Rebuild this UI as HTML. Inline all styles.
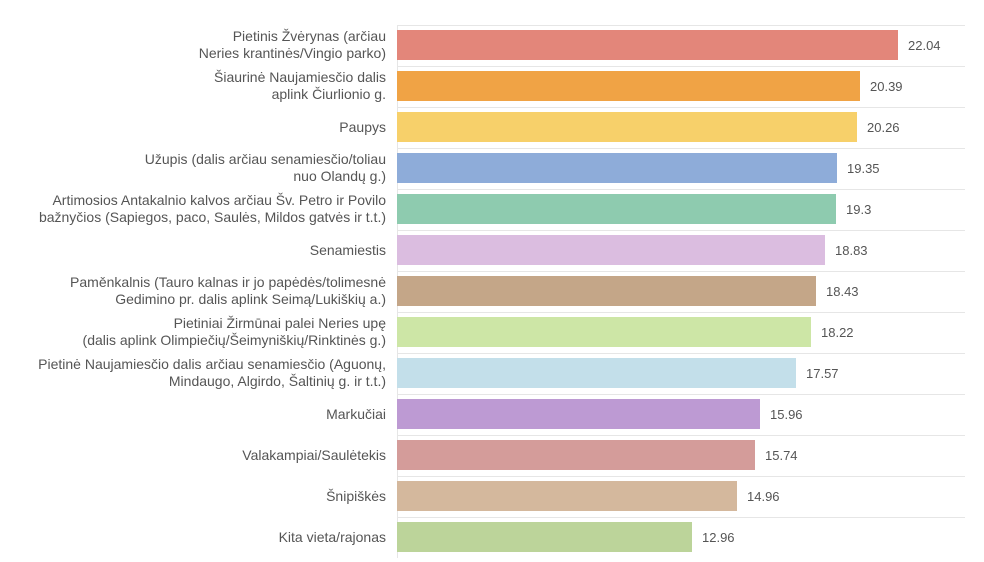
<!DOCTYPE html><html><head><meta charset="utf-8"><style>body{margin:0;background:#fff}svg{display:block}text{font-family:"Liberation Sans",sans-serif;font-size:13px;fill:#555}.l text{font-size:14px}</style></head><body>
<svg width="984" height="562" xmlns="http://www.w3.org/2000/svg">
<g stroke="#e6e6e6" stroke-width="1">
<line x1="397" y1="25.5" x2="965" y2="25.5"/><line x1="397" y1="66.5" x2="965" y2="66.5"/><line x1="397" y1="107.5" x2="965" y2="107.5"/><line x1="397" y1="148.5" x2="965" y2="148.5"/><line x1="397" y1="189.5" x2="965" y2="189.5"/><line x1="397" y1="230.5" x2="965" y2="230.5"/><line x1="397" y1="271.5" x2="965" y2="271.5"/><line x1="397" y1="312.5" x2="965" y2="312.5"/><line x1="397" y1="353.5" x2="965" y2="353.5"/><line x1="397" y1="394.5" x2="965" y2="394.5"/><line x1="397" y1="435.5" x2="965" y2="435.5"/><line x1="397" y1="476.5" x2="965" y2="476.5"/><line x1="397" y1="517.5" x2="965" y2="517.5"/>
<line x1="397.5" y1="25" x2="397.5" y2="558"/>
</g>
<g>
<rect x="397" y="30" width="501" height="30" fill="#e3867a"/>
<rect x="397" y="71" width="463" height="30" fill="#f0a345"/>
<rect x="397" y="112" width="460" height="30" fill="#f7d06a"/>
<rect x="397" y="153" width="440" height="30" fill="#8eacd9"/>
<rect x="397" y="194" width="439" height="30" fill="#8ecbaf"/>
<rect x="397" y="235" width="428" height="30" fill="#dbbde0"/>
<rect x="397" y="276" width="419" height="30" fill="#c4a688"/>
<rect x="397" y="317" width="414" height="30" fill="#cde6a6"/>
<rect x="397" y="358" width="399" height="30" fill="#c3dfea"/>
<rect x="397" y="399" width="363" height="30" fill="#bd9ad3"/>
<rect x="397" y="440" width="358" height="30" fill="#d49c9a"/>
<rect x="397" y="481" width="340" height="30" fill="#d4b89d"/>
<rect x="397" y="522" width="295" height="30" fill="#bcd49a"/>
</g>
<g>
<text x="908" y="50">22.04</text><text x="870" y="91">20.39</text><text x="867" y="132">20.26</text><text x="847" y="173">19.35</text><text x="846" y="214">19.3</text><text x="835" y="255">18.83</text><text x="826" y="296">18.43</text><text x="821" y="337">18.22</text><text x="806" y="378">17.57</text><text x="770" y="419">15.96</text><text x="765" y="460">15.74</text><text x="747" y="501">14.96</text><text x="702" y="542">12.96</text>
</g>
<g text-anchor="end" class="l">
<text x="386" y="41">Pietinis Žvėrynas (arčiau</text><text x="386" y="58">Neries krantinės/Vingio parko)</text>
<text x="386" y="82">Šiaurinė Naujamiesčio dalis</text><text x="386" y="99">aplink Čiurlionio g.</text>
<text x="386" y="132">Paupys</text>
<text x="386" y="164">Užupis (dalis arčiau senamiesčio/toliau</text><text x="386" y="181">nuo Olandų g.)</text>
<text x="386" y="205">Artimosios Antakalnio kalvos arčiau Šv. Petro ir Povilo</text><text x="386" y="222">bažnyčios (Sapiegos, paco, Saulės, Mildos gatvės ir t.t.)</text>
<text x="386" y="255">Senamiestis</text>
<text x="386" y="287">Paměnkalnis (Tauro kalnas ir jo papėdės/tolimesnė</text><text x="386" y="304">Gedimino pr. dalis aplink Seimą/Lukiškių a.)</text>
<text x="386" y="328">Pietiniai Žirmūnai palei Neries upę</text><text x="386" y="345">(dalis aplink Olimpiečių/Šeimyniškių/Rinktinės g.)</text>
<text x="386" y="369">Pietinė Naujamiesčio dalis arčiau senamiesčio (Aguonų,</text><text x="386" y="386">Mindaugo, Algirdo, Šaltinių g. ir t.t.)</text>
<text x="386" y="419">Markučiai</text>
<text x="386" y="460">Valakampiai/Saulėtekis</text>
<text x="386" y="501">Šnipiškės</text>
<text x="386" y="542">Kita vieta/rajonas</text>
</g>
</svg></body></html>
